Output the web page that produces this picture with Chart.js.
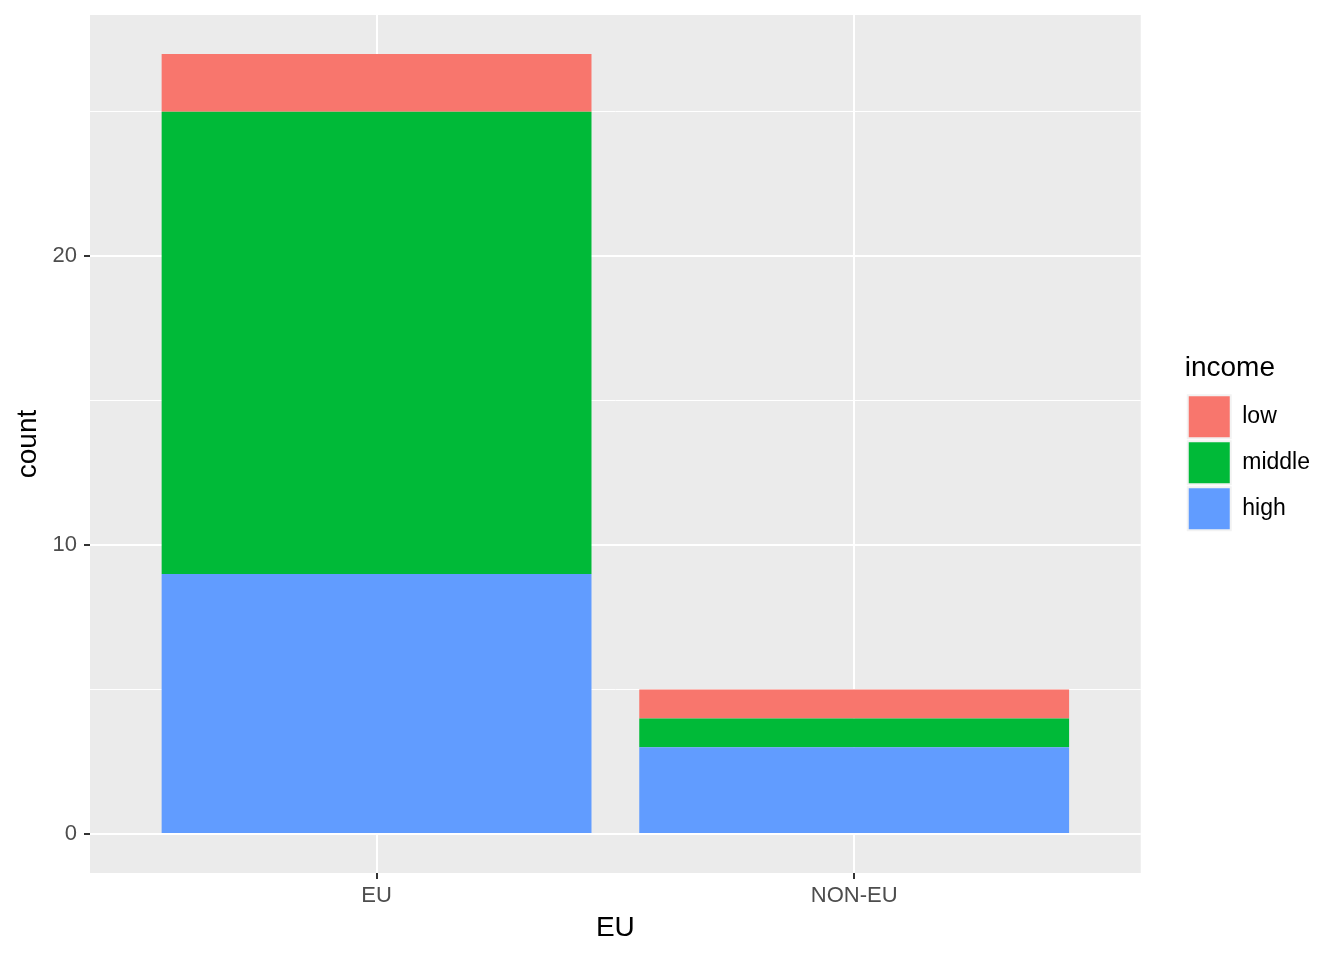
<!DOCTYPE html>
<html>
<head>
<meta charset="utf-8">
<script src="https://cdn.jsdelivr.net/npm/chart.js@4"></script>
<style>
  html, body { margin: 0; padding: 0; background: #ffffff; }
  #wrap { width: 1344px; height: 960px; }
</style>
</head>
<body>
<div id="wrap"><canvas id="myChart" width="1344" height="960"></canvas></div>
<script>
// du lieu doc tu hinh
const categories = ['EU', 'NON-EU'];
const highValues = [9, 3];
const middleValues = [16, 1];
const lowValues = [2, 1];
const yTicks = [0, 5, 10, 15, 20, 25];
const yLabelTicks = [0, 10, 20];

function toPoints(values) {
    return values.map((v, i) => ({ x: i + 1, y: v }));
}

// nen xam cua panel
const panelBg = {
    id: 'panelBg',
    beforeDraw(chart) {
        const a = chart.chartArea;
        const ctx = chart.ctx;
        ctx.save();
        ctx.fillStyle = '#EBEBEB';
        ctx.fillRect(a.left, a.top, a.right - a.left, a.bottom - a.top);
        ctx.restore();
    }
};

const data = {
    datasets: [
        { label: 'high', data: toPoints(highValues), backgroundColor: '#619CFF' },
        { label: 'middle', data: toPoints(middleValues), backgroundColor: '#00BA38' },
        { label: 'low', data: toPoints(lowValues), backgroundColor: '#F8766D' }
    ]
};

const config = {
    type: 'bar',
    data: data,
    plugins: [panelBg],
    options: {
        responsive: false,
        animation: false,
        layout: { padding: { top: 15, right: 24, bottom: 0, left: 0 } },
        datasets: {
            bar: { categoryPercentage: 1, barPercentage: 0.9, borderWidth: 0 }
        },
        font: { family: '"Liberation Sans", Arial, sans-serif' },
        scales: {
            x: {
                type: 'linear',
                stacked: true,
                offset: false,
                min: 0.4,
                max: 2.6,
                afterBuildTicks(scale) {
                    scale.ticks = categories.map((c, i) => ({ value: i + 1 }));
                },
                afterFit(scale) { scale.height = 87; },
                ticks: {
                    color: '#4D4D4D',
                    font: { size: 22 },
                    padding: 4,
                    maxRotation: 0,
                    callback: (v) => categories[v - 1]
                },
                grid: { offset: false, color: '#FFFFFF', lineWidth: 2, tickColor: '#333333', tickLength: 6, tickWidth: 2 },
                border: { display: false },
                title: {
                    display: true, text: 'EU', color: '#000000',
                    font: { size: 28 }, padding: { top: 0, bottom: 15 }
                }
            },
            y: {
                stacked: true,
                min: -1.35,
                max: 28.35,
                afterBuildTicks(scale) {
                    scale.ticks = yTicks.map(v => ({ value: v }));
                },
                afterFit(scale) {
                    scale.width = 90;
                    scale.paddingTop = 0;
                    scale.paddingBottom = 0;
                },
                ticks: {
                    color: '#4D4D4D',
                    font: { size: 22 },
                    padding: 7,
                    callback: (v) => yLabelTicks.includes(v) ? String(v) : ''
                },
                grid: {
                    color: '#FFFFFF',
                    lineWidth: (c) => yLabelTicks.includes(c.tick.value) ? 2 : 1,
                    tickColor: (c) => yLabelTicks.includes(c.tick.value) ? '#333333' : 'rgba(0,0,0,0)',
                    tickLength: 6,
                    tickWidth: 2
                },
                border: { display: false },
                title: {
                    display: true, text: 'count', color: '#000000',
                    font: { size: 28 }, padding: { top: 11, bottom: 0 }
                }
            },
            // truc gia de tao khoang trong truoc legend
            spacer: {
                type: 'linear',
                position: 'right',
                display: true,
                ticks: { display: false },
                grid: { display: false },
                border: { display: false },
                afterFit(scale) {
                    scale.width = 44;
                    scale.paddingTop = 0;
                    scale.paddingBottom = 0;
                }
            }
        },
        plugins: {
            tooltip: { enabled: false },
            legend: {
                position: 'right',
                fullSize: false,
                reverse: true,
                title: {
                    display: true, text: 'income', color: '#000000', position: 'start',
                    font: { size: 28 }, padding: { top: 0, bottom: 4 }
                },
                labels: {
                    color: '#000000',
                    font: { size: 23 },
                    boxWidth: 43,
                    boxHeight: 43,
                    padding: 3,
                    generateLabels(chart) {
                        const items = Chart.defaults.plugins.legend.labels.generateLabels(chart);
                        items.forEach(it => {
                            it.strokeStyle = '#F2F2F2';
                            it.lineWidth = 2;
                        });
                        return items;
                    }
                }
            }
        }
    }
};

let ctx = document.getElementById('myChart').getContext('2d');
new Chart(ctx, config);
</script>
</body>
</html>
